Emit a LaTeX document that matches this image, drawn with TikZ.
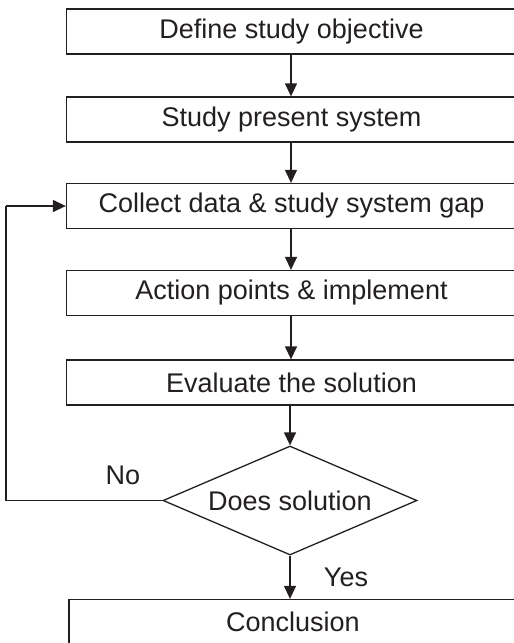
\documentclass[tikz,border=0pt]{standalone}
\usepackage{fontspec}
\setmainfont{Liberation Sans}
\usetikzlibrary{shapes.geometric,arrows.meta}
\definecolor{ink}{HTML}{231F20}
\begin{document}
\begin{tikzpicture}[x=1pt,y=-1pt,
  every node/.style={font=\fontsize{27}{32}\selectfont, text=ink},
  stepbox/.style={draw=ink, line width=1.3pt, rectangle, minimum width=450pt, minimum height=45pt, inner sep=0pt},
  decision/.style={draw=ink, line width=1.3pt, diamond, minimum width=254pt, minimum height=109pt, inner sep=0pt},
  arr/.style={draw=ink, line width=1.3pt, -{Triangle[length=13pt,width=12pt]}},
  ln/.style={draw=ink, line width=1.3pt}
]
\useasboundingbox (0,0) rectangle (514,643);
\node[stepbox] (b1) at (291.5,31.5) {Define study objective};
\node[stepbox] (b2) at (291.5,119.5) {Study present system};
\node[stepbox] (b3) at (291.5,206) {Collect data \& study system gap};
\node[stepbox] (b4) at (291.5,293) {Action points \& implement};
\node[stepbox] (b5) at (291.5,382.5) {Evaluate the solution};
\node[decision] (d) at (290,500.5) {};
\node (dt) at (290,500.5) {Does solution};
\node[stepbox, minimum width=448pt] (b6) at (293,622) {Conclusion};
\node (no) at (123,475) {No};
\node (yes) at (346,577) {Yes};
\coordinate (lb) at (6,500.5);
\coordinate (lt) at (6,206);
\draw[arr] (b1.south -| 291,0) -- (b2.north -| 291,0);
\draw[arr] (b2.south -| 291,0) -- (b3.north -| 291,0);
\draw[arr] (b3.south -| 291,0) -- (b4.north -| 291,0);
\draw[arr] (b4.south -| 291,0) -- (b5.north -| 291,0);
\draw[arr] (b5.south -| d.north) -- (d.north);
\draw[arr] (d.south) -- (b6.north -| d.south);
\draw[ln] (d.west) -- (lb) -- (lt);
\draw[arr] (lt) -- (b3.west);
\end{tikzpicture}
\end{document}
